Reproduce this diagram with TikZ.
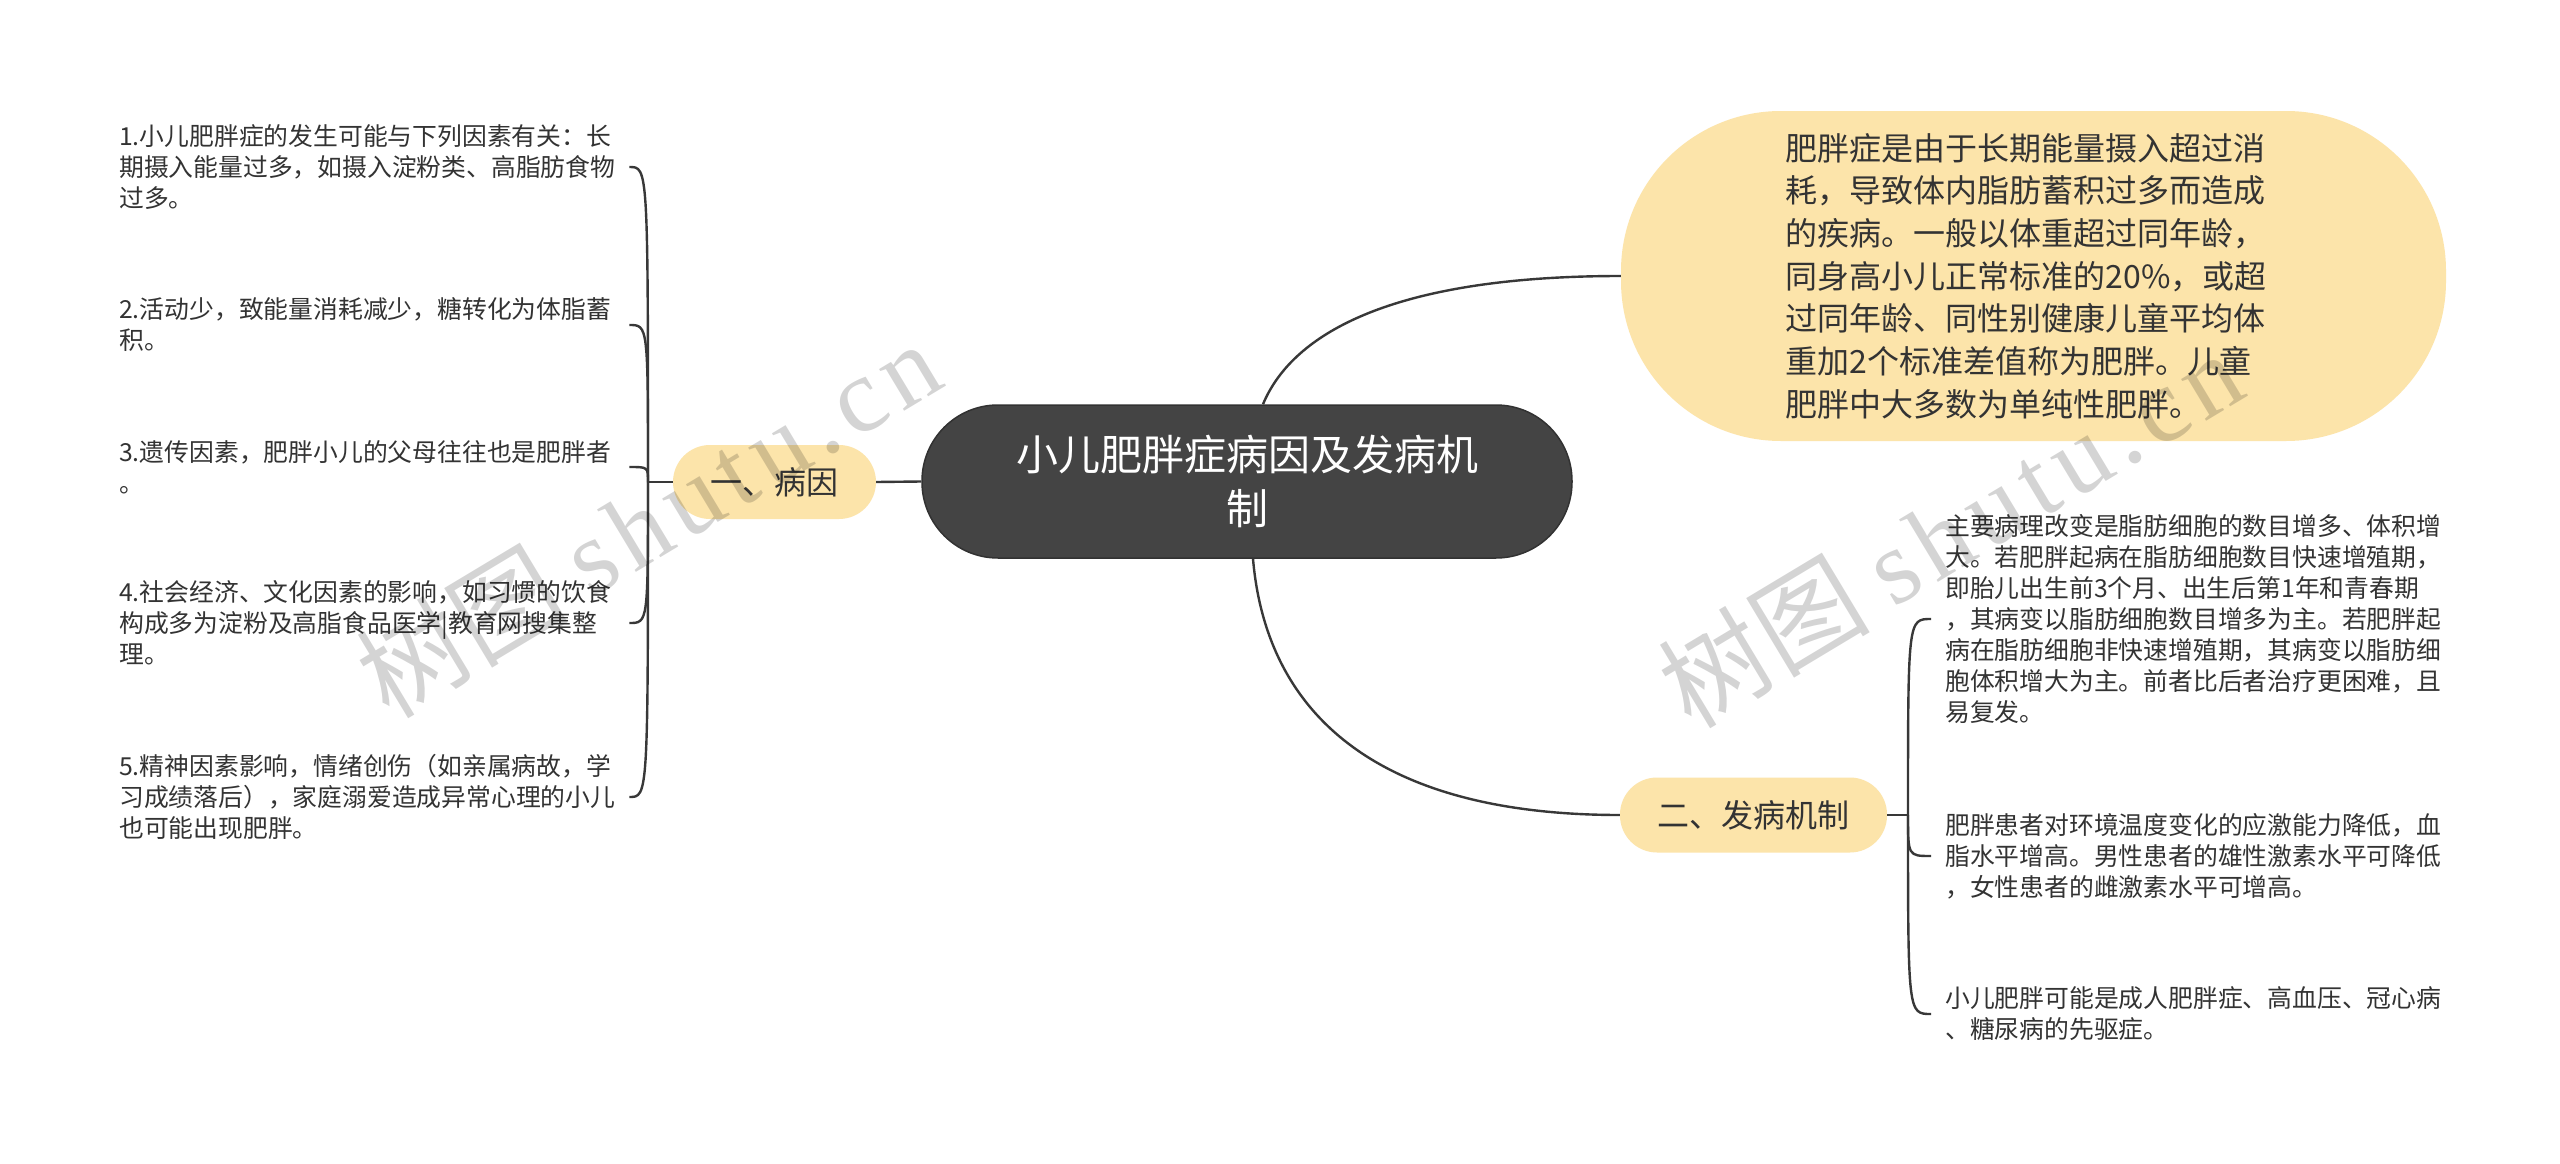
\documentclass[tikz,border=0pt]{standalone}
\usepackage{fontspec}
\setmainfont{Noto Sans CJK SC}
\newfontfamily\wmlatin[LetterSpace=8]{Liberation Serif}
\usetikzlibrary{calc}
\definecolor{rootfill}{HTML}{444444}
\definecolor{rootline}{HTML}{323232}
\definecolor{yel}{HTML}{FCE4AA}
\definecolor{linec}{HTML}{383838}
\definecolor{txt}{HTML}{333333}
\begin{document}
\begin{tikzpicture}[x=1pt,y=-1pt,
  conn/.style={draw=linec, line width=2.4pt},
  rootbox/.style={rectangle, rounded corners=76pt, fill=rootfill, draw=rootline, line width=1.5pt,
    minimum width=650pt, minimum height=153pt, inner sep=0pt, text=white, align=center,
    font=\fontsize{42}{54}\selectfont},
  ybox/.style={rectangle, fill=yel, inner sep=0pt, text=txt},
  branchbox/.style={ybox, rounded corners=37pt, minimum height=74pt, font=\fontsize{32}{40}\selectfont},
  leaf/.style={text width=496pt, align=left, inner xsep=14pt, inner ysep=0pt, anchor=west,
    text=txt, font=\fontsize{24.8}{31}\selectfont},
  wmark/.style={rotate=31, text=black, text opacity=0.17, inner sep=0pt, font=\fontsize{106}{106}\selectfont}]
\useasboundingbox[fill=white] (0,0) rectangle (2560,1164);

% central node
\node[rootbox] (root) at (1247,481.5) {小儿肥胖症病因及发病机\\制};

% branches
\node[branchbox, minimum width=203pt] (b1) at (774.5,482) {一、病因};
\node[branchbox, minimum width=267pt, minimum height=75pt] (b2) at (1753.5,815) {二、发病机制};
\node[ybox, rounded corners=160pt, minimum width=825pt, minimum height=330pt, text width=496pt,
  align=left, font=\fontsize{32}{42.7}\selectfont] (d1) at (2033.5,276)
  {肥胖症是由于长期能量摄入超过消\\耗，导致体内脂肪蓄积过多而造成\\的疾病。一般以体重超过同年龄，\\同身高小儿正常标准的20\%，或超\\过同年龄、同性别健康儿童平均体\\重加2个标准差值称为肥胖。儿童\\肥胖中大多数为单纯性肥胖。};

% left leaves
\node[leaf] (c1) at (105,167) {1.小儿肥胖症的发生可能与下列因素有关：长\\期摄入能量过多，如摄入淀粉类、高脂肪食物\\过多。};
\node[leaf] (c2) at (105,325) {2.活动少，致能量消耗减少，糖转化为体脂蓄\\积。};
\node[leaf] (c3) at (105,467) {3.遗传因素，肥胖小儿的父母往往也是肥胖者\\。};
\node[leaf] (c4) at (105,623) {4.社会经济、文化因素的影响，如习惯的饮食\\构成多为淀粉及高脂食品医学|教育网搜集整\\理。};
\node[leaf] (c5) at (105,797) {5.精神因素影响，情绪创伤（如亲属病故，学\\习成绩落后），家庭溺爱造成异常心理的小儿\\也可能出现肥胖。};

% right leaves
\node[leaf] (cA) at (1931,619) {主要病理改变是脂肪细胞的数目增多、体积增\\大。若肥胖起病在脂肪细胞数目快速增殖期，\\即胎儿出生前3个月、出生后第1年和青春期\\，其病变以脂肪细胞数目增多为主。若肥胖起\\病在脂肪细胞非快速增殖期，其病变以脂肪细\\胞体积增大为主。前者比后者治疗更困难，且\\易复发。};
\node[leaf] (cB) at (1931,856) {肥胖患者对环境温度变化的应激能力降低，血\\脂水平增高。男性患者的雄性激素水平可降低\\，女性患者的雌激素水平可增高。};
\node[leaf] (cC) at (1931,1014) {小儿肥胖可能是成人肥胖症、高血压、冠心病\\、糖尿病的先驱症。};

% connectors
\coordinate (lt) at (648,482);
\coordinate (rt) at (1908,815);
\draw[conn] (root.west) -- (b1.east);
\draw[conn] ([xshift=16pt]root.north) .. controls +(27,-65) and +(-240,0) .. (d1.west);
\draw[conn] ([xshift=6pt]root.south) .. controls +(12,141) and +(-260,0) .. (b2.west);
\draw[conn] (b1.west) -- (lt);
\draw[conn] (b2.east) -- (rt);
\foreach \c in {c1,c2,c3,c4,c5}
  \draw[conn] (lt) .. controls (lt |- \c.east) .. (\c.east);
\foreach \c in {cA,cB,cC}
  \draw[conn] (rt) .. controls (rt |- \c.west) .. (\c.west);

% watermarks
\node[wmark] (wm1) at (648,518) {树图 {\wmlatin shutu.cn}};
\node[wmark] (wm2) at (1950,528) {树图 {\wmlatin shutu.cn}};
\end{tikzpicture}
\end{document}
